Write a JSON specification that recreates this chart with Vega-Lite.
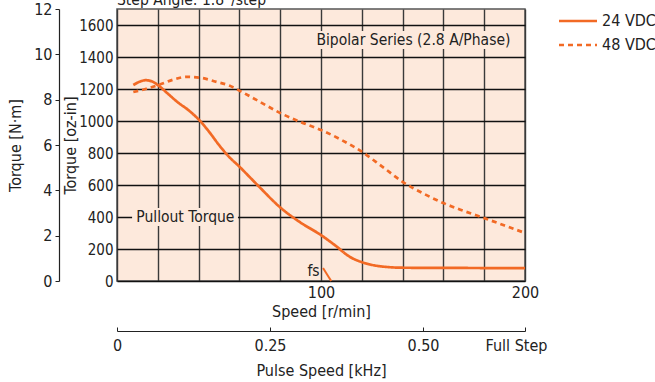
{
  "$schema": "https://vega.github.io/schema/vega-lite/v6.json",
  "width": 408,
  "height": 272,
  "autosize": {"type": "none"},
  "padding": {"left": 117, "top": 9, "right": 130, "bottom": 101},
  "config": {
    "font": "Liberation Sans Narrow, DejaVu Sans Condensed, Roboto, sans-serif",
    "view": {"fill": "#fde9dc", "stroke": "#555", "strokeWidth": 1.5},
    "axis": {"labelFontSize": 16, "titleFontSize": 16, "labelColor": "#222", "titleColor": "#222", "titleFontWeight": "normal", "labelOverlap": false, "labelFlush": false},
    "legend": {"labelFontSize": 16, "labelColor": "#222"}
  },
  "datasets": {
    "curves": [
      {"speed": 8, "torque": 1225, "series": "24 VDC"},
      {"speed": 11, "torque": 1245, "series": "24 VDC"},
      {"speed": 14, "torque": 1255, "series": "24 VDC"},
      {"speed": 17, "torque": 1248, "series": "24 VDC"},
      {"speed": 21, "torque": 1215, "series": "24 VDC"},
      {"speed": 25, "torque": 1170, "series": "24 VDC"},
      {"speed": 30, "torque": 1115, "series": "24 VDC"},
      {"speed": 35, "torque": 1068, "series": "24 VDC"},
      {"speed": 40, "torque": 1010, "series": "24 VDC"},
      {"speed": 45, "torque": 935, "series": "24 VDC"},
      {"speed": 50, "torque": 850, "series": "24 VDC"},
      {"speed": 55, "torque": 775, "series": "24 VDC"},
      {"speed": 60, "torque": 715, "series": "24 VDC"},
      {"speed": 65, "torque": 650, "series": "24 VDC"},
      {"speed": 70, "torque": 585, "series": "24 VDC"},
      {"speed": 80, "torque": 460, "series": "24 VDC"},
      {"speed": 90, "torque": 365, "series": "24 VDC"},
      {"speed": 100, "torque": 287, "series": "24 VDC"},
      {"speed": 107, "torque": 222, "series": "24 VDC"},
      {"speed": 114, "torque": 152, "series": "24 VDC"},
      {"speed": 120, "torque": 118, "series": "24 VDC"},
      {"speed": 126, "torque": 98, "series": "24 VDC"},
      {"speed": 132, "torque": 88, "series": "24 VDC"},
      {"speed": 140, "torque": 83, "series": "24 VDC"},
      {"speed": 160, "torque": 82, "series": "24 VDC"},
      {"speed": 180, "torque": 81, "series": "24 VDC"},
      {"speed": 200, "torque": 80, "series": "24 VDC"},
      {"speed": 8, "torque": 1181, "series": "48 VDC"},
      {"speed": 14, "torque": 1200, "series": "48 VDC"},
      {"speed": 21, "torque": 1228, "series": "48 VDC"},
      {"speed": 28, "torque": 1260, "series": "48 VDC"},
      {"speed": 34, "torque": 1276, "series": "48 VDC"},
      {"speed": 41, "torque": 1270, "series": "48 VDC"},
      {"speed": 49, "torque": 1244, "series": "48 VDC"},
      {"speed": 55, "torque": 1222, "series": "48 VDC"},
      {"speed": 60, "torque": 1190, "series": "48 VDC"},
      {"speed": 70, "torque": 1120, "series": "48 VDC"},
      {"speed": 80, "torque": 1050, "series": "48 VDC"},
      {"speed": 90, "torque": 994, "series": "48 VDC"},
      {"speed": 100, "torque": 944, "series": "48 VDC"},
      {"speed": 110, "torque": 882, "series": "48 VDC"},
      {"speed": 120, "torque": 808, "series": "48 VDC"},
      {"speed": 130, "torque": 715, "series": "48 VDC"},
      {"speed": 140, "torque": 620, "series": "48 VDC"},
      {"speed": 150, "torque": 548, "series": "48 VDC"},
      {"speed": 160, "torque": 487, "series": "48 VDC"},
      {"speed": 170, "torque": 438, "series": "48 VDC"},
      {"speed": 180, "torque": 393, "series": "48 VDC"},
      {"speed": 190, "torque": 347, "series": "48 VDC"},
      {"speed": 200, "torque": 300, "series": "48 VDC"}
    ],
    "boxes": [
      {"speed": 7.4, "speed2": 59.3, "torque": 344, "torque2": 456},
      {"speed": 97.5, "speed2": 193, "torque": 1450, "torque2": 1562}
    ],
    "fsline": [
      {"speed": 101, "torque": 81},
      {"speed": 105, "torque": 0}
    ],
    "labels": [
      {"speed": 33.5, "torque": 400, "text": "Pullout Torque"},
      {"speed": 145.3, "torque": 1506, "text": "Bipolar Series (2.8 A/Phase)"}
    ],
    "fslabel": [{"speed": 99.3, "torque": 62, "text": "fs"}],
    "steplabel": [{"speed": 0, "torque": 1700, "text": "Step Angle: 1.8°/step"}],
    "nm": [{"nm": 0}, {"nm": 12}],
    "khz": [{"khz": 0}, {"khz": 0.666667}]
  },
  "layer": [
    {
      "encoding": {
        "x": {"field": "speed", "type": "quantitative", "scale": {"domain": [0, 200], "nice": false, "zero": false},
          "axis": {"values": [0, 20, 40, 60, 80, 100, 120, 140, 160, 180, 200], "labelExpr": "datum.value == 100 || datum.value == 200 ? datum.label : ''", "labelOverlap": false, "labelFlush": false, "ticks": false, "domain": false, "grid": true, "gridColor": "#3a3a3a", "gridWidth": 1.4, "labelPadding": 3, "title": "Speed [r/min]", "titlePadding": 3}},
        "y": {"field": "torque", "type": "quantitative", "scale": {"domain": [0, 1700], "nice": false, "zero": false},
          "axis": {"values": [0, 200, 400, 600, 800, 1000, 1200, 1400, 1600], "tickCount": 9, "format": "d", "labelFontSize": 15, "labelOverlap": false, "ticks": false, "domain": false, "grid": true, "gridColor": "#111", "gridWidth": 1.4, "labelPadding": 4, "title": "Torque [oz-in]", "titlePadding": 0}}
      },
      "layer": [
        {
          "data": {"name": "boxes"},
          "mark": {"type": "rect", "fill": "#fde9dc", "stroke": null},
          "encoding": {
            "x2": {"field": "speed2"},
            "y2": {"field": "torque2"}
          }
        },
        {
          "data": {"name": "curves"},
          "mark": {"type": "line", "color": "#f26a25", "strokeWidth": 2.7, "interpolate": "monotone"},
          "encoding": {
            "strokeDash": {"field": "series", "type": "nominal",
              "scale": {"domain": ["24 VDC", "48 VDC"], "range": [[1, 0], [5, 4]]},
              "legend": {"orient": "none", "legendX": 450, "legendY": 1, "title": null, "symbolType": "M-2,0H2", "symbolSize": 361, "symbolStrokeWidth": 2.5, "symbolStrokeColor": "#f26a25", "symbolFillColor": "transparent", "labelOffset": 13, "rowPadding": 5, "labelFontSize": 16}}
          }
        },
        {
          "data": {"name": "fsline"},
          "mark": {"type": "line", "color": "#f26a25", "strokeWidth": 2},
          "encoding": {}
        },
        {
          "data": {"name": "labels"},
          "mark": {"type": "text", "fontSize": 15.5, "align": "center", "baseline": "middle", "color": "#222"},
          "encoding": {"text": {"field": "text"}}
        },
        {
          "data": {"name": "fslabel"},
          "mark": {"type": "text", "fontSize": 15.5, "align": "right", "baseline": "middle", "color": "#222"},
          "encoding": {"text": {"field": "text"}}
        },
        {
          "data": {"name": "steplabel"},
          "mark": {"type": "text", "fontSize": 15.5, "align": "left", "baseline": "alphabetic", "dy": -4, "color": "#222"},
          "encoding": {"text": {"field": "text"}}
        }
      ]
    },
    {
      "data": {"name": "nm"},
      "mark": {"type": "point", "opacity": 0},
      "encoding": {
        "y": {"field": "nm", "type": "quantitative", "scale": {"domain": [0, 12], "nice": false, "zero": false},
          "axis": {"orient": "left", "offset": 58, "values": [0, 2, 4, 6, 8, 10, 12], "labelOverlap": false, "grid": false, "domain": true, "domainColor": "#222", "domainWidth": 1.2, "ticks": true, "tickColor": "#222", "tickSize": 4, "labelPadding": 3, "title": "Torque [N·m]", "titlePadding": 10}}
      }
    },
    {
      "data": {"name": "khz"},
      "mark": {"type": "point", "opacity": 0},
      "encoding": {
        "x": {"field": "khz", "type": "quantitative", "scale": {"domain": [0, 0.666667], "nice": false, "zero": false},
          "axis": {"orient": "bottom", "offset": 50, "values": [0, 0.25, 0.5, 0.666667], "labelExpr": "datum.value > 0.6 ? 'Full Step' : datum.value == 0 ? '0' : format(datum.value, '.2f')", "labelOffset": {"expr": "datum.value > 0.6 ? -9 : 0"}, "labelOverlap": false, "labelFlush": false, "grid": false, "domain": true, "domainColor": "#222", "domainWidth": 1.2, "ticks": true, "tickColor": "#222", "tickSize": -4, "labelPadding": 10, "title": "Pulse Speed [kHz]", "titlePadding": 9}}
      }
    }
  ],
  "resolve": {"scale": {"x": "independent", "y": "independent"}}
}
